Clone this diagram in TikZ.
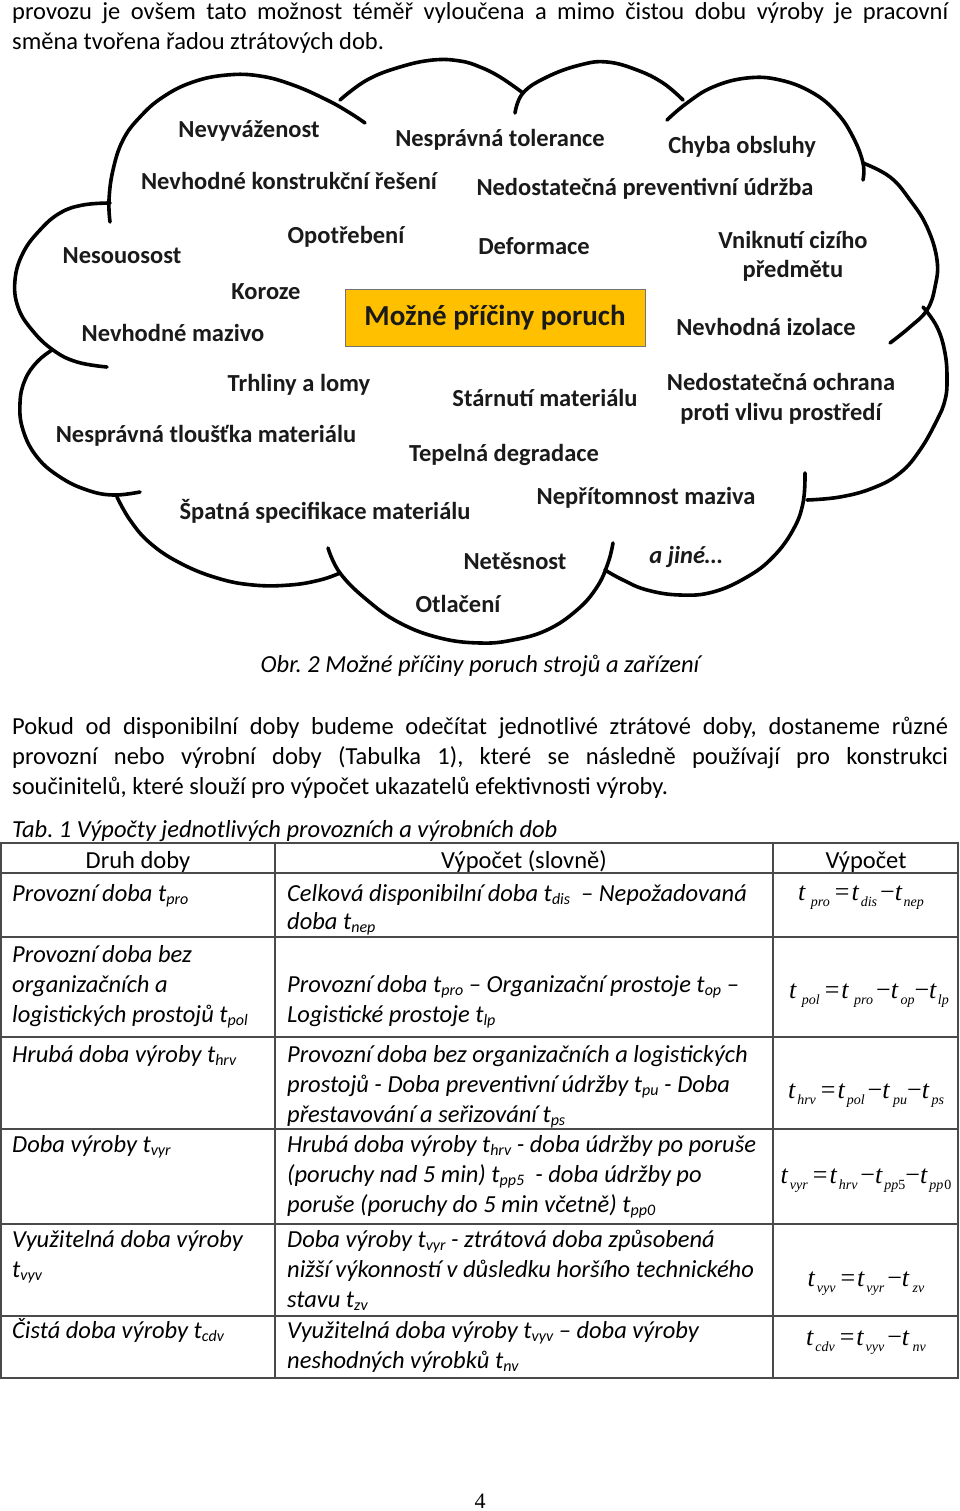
\documentclass[tikz,border=0pt]{standalone}
\usepackage{fontspec}
\setmainfont{Carlito}
\newfontfamily\tms{Liberation Serif}
\definecolor{gold}{HTML}{FFC000}
\definecolor{ink}{HTML}{1A1A1A}
\definecolor{rulec}{HTML}{4A4A4A}
\frenchspacing
\newcommand{\ts}[1]{\raisebox{-3.5pt}{\fontsize{16}{16}\selectfont #1}}
\newcommand{\FT}[2][1.5pt]{\textit{t}\kern#1\raisebox{-6pt}{\fontsize{14}{14}\selectfont\textit{#2}}}
\newcommand{\FEQ}{\kern5pt=\kern2pt}
\newcommand{\FMI}{\kern3pt−}
\newcommand{\FMJ}{\kern0pt−}
\tikzset{
 cloudline/.style={line width=3.6pt, line cap=round, line join=round},
 lbl/.style={anchor=base, inner sep=0, font=\fontsize{24.5}{30}\selectfont\bfseries, text=ink},
 body/.style={anchor=base west, inner sep=0, font=\fontsize{24.5}{30}\selectfont},
 cell/.style={anchor=base west, inner sep=0, font=\fontsize{24.5}{30}\selectfont\itshape},
 head/.style={anchor=base, inner sep=0, font=\fontsize{24.5}{30}\selectfont},
 formula/.style={anchor=base, inner sep=0, font=\tms\fontsize{26}{26}\selectfont},
 grid/.style={draw=rulec, line width=1.4pt},
}
\begin{document}
\begin{tikzpicture}[x=1pt,y=-1pt]
\useasboundingbox (0,0) rectangle (960,1511);
\fill[white] (0,0) rectangle (960,1511);

% top paragraph
\node[body] (p1) at (12,20) {\makebox[936pt][s]{provozu je ovšem tato možnost téměř vyloučena a mimo čistou dobu výroby je pracovní}};
\node[body] (p2) at (12,50) {směna tvořena řadou ztrátových dob.};

% cloud
\draw[cloudline] plot[smooth, tension=0.7] coordinates {(110,222) (109,200) (113,170) (123,140) (140,117) (163,97) (193,82) (227,75) (260,76) (293,85) (327,100) (350,113) (365,123)};
\draw[cloudline] plot[smooth, tension=0.7] coordinates {(110,203) (83,205) (60,213) (40,230) (23,253) (15,280) (18,307) (32,330) (53,350) (77,362) (107,367)};
\draw[cloudline] plot[smooth, tension=0.7] coordinates {(52,350) (37,362) (25,380) (20,403) (23,430) (37,457) (60,477) (87,490) (113,495) (140,492)};
\draw[cloudline] plot[smooth, tension=0.7] coordinates {(117,497) (130,520) (150,543) (180,563) (217,578) (253,585) (290,585) (320,580) (340,573)};
\draw[cloudline] plot[smooth, tension=0.7] coordinates {(328,548) (340,573) (367,600) (400,623) (440,638) (480,643) (513,640) (547,630) (577,610) (597,587) (608,563) (613,543)};
\draw[cloudline] plot[smooth, tension=0.7] coordinates {(605,570) (623,580) (647,590) (680,595) (713,592) (747,577) (773,557) (793,530) (803,503) (805,473)};
\draw[cloudline] plot[smooth, tension=0.7] coordinates {(923,307) (937,327) (945,353) (947,380) (945,400) (937,420) (920,450) (900,473) (873,488) (840,497) (807,500)};
\draw[cloudline] plot[smooth, tension=0.7] coordinates {(863,163) (890,177) (910,200) (927,227) (937,260) (935,287) (927,310) (910,327) (890,343)};
\draw[cloudline] plot[smooth, tension=0.7] coordinates {(667,120) (687,103) (713,87) (747,78) (780,80) (813,93) (837,113) (853,137) (863,163) (863,180)};
\draw[cloudline] plot[smooth, tension=0.7] coordinates {(515,113) (523,93) (547,77) (580,65) (607,62) (637,70) (663,83) (683,100)};
\draw[cloudline] plot[smooth, tension=0.7] coordinates {(340,100) (367,80) (400,67) (433,60) (460,61) (480,67) (500,77) (523,93)};

% cloud labels
\node[lbl] (c1) at (249,138) {Nevyváženost};
\node[lbl] (c2) at (500,147) {Nesprávná tolerance};
\node[lbl] (c3) at (742,154) {Chyba obsluhy};
\node[lbl] (c4) at (289,190) {Nevhodné konstrukční řešení};
\node[lbl] (c5) at (645,196) {Nedostatečná preventivní údržba};
\node[lbl] (c6) at (346,244) {Opotřebení};
\node[lbl] (c7) at (534,255) {Deformace};
\node[lbl] (c8a) at (793,249) {Vniknutí cizího};
\node[lbl] (c8b) at (793,278) {předmětu};
\node[lbl] (c9) at (122,264) {Nesouosost};
\node[lbl] (c10) at (266,299) {Koroze};
\node[lbl] (c11) at (173,341) {Nevhodné mazivo};
\node[lbl] (c12) at (766,335) {Nevhodná izolace};
\node[lbl] (c13) at (299,391) {Trhliny a lomy};
\node[lbl] (c14) at (545,406) {Stárnutí materiálu};
\node[lbl] (c15a) at (781,390) {Nedostatečná ochrana};
\node[lbl] (c15b) at (781,420) {proti vlivu prostředí};
\node[lbl] (c16) at (206,442) {Nesprávná tloušťka materiálu};
\node[lbl] (c17) at (504,461) {Tepelná degradace};
\node[lbl] (c18) at (646,504) {Nepřítomnost maziva};
\node[lbl] (c19) at (325,519) {Špatná specifikace materiálu};
\node[lbl] (c20) at (515,569) {Netěsnost};
\node[lbl, font=\fontsize{24.5}{30}\selectfont\bfseries\itshape] (c21) at (686,563) {a jiné…};
\node[lbl] (c22) at (458,612) {Otlačení};

\node[draw=black!55, fill=gold, line width=1pt, minimum width=300pt, minimum height=56pt, inner sep=0, font=\fontsize{29}{30}\selectfont\bfseries, text=ink] (title) at (495,318) {Možné příčiny poruch};

% caption and paragraph
\node[body, anchor=base, font=\fontsize{24.5}{30}\selectfont\itshape] (cap) at (480,672) {Obr. 2 Možné příčiny poruch strojů a zařízení};
\node[body] (q1) at (12,734) {\makebox[936pt][s]{Pokud od disponibilní doby budeme odečítat jednotlivé ztrátové doby, dostaneme různé}};
\node[body] (q2) at (12,764) {\makebox[936pt][s]{provozní nebo výrobní doby (Tabulka 1), které se následně používají pro konstrukci}};
\node[body] (q3) at (12,794) {součinitelů, které slouží pro výpočet ukazatelů efektivnosti výroby.};
\node[cell] (tabcap) at (12,837) {Tab. 1 Výpočty jednotlivých provozních a výrobních dob};

% table grid
\draw[grid] (1,843) rectangle (958,1378);
\foreach \yy in {873,937,1037,1129,1224,1316} \draw[grid] (1,\yy) -- (958,\yy);
\draw[grid] (275,843) -- (275,1378);
\draw[grid] (773,843) -- (773,1378);

% header
\node[head] (h1) at (138,868) {Druh doby};
\node[head] (h2) at (524,868) {Výpočet (slovně)};
\node[head] (h3) at (866,868) {Výpočet};

% row 1
\node[cell] (a1) at (12,901) {Provozní doba t\ts{pro}};
\node[cell] (b1a) at (287,901) {Celková disponibilní doba t\ts{dis}\ \ – Nepožadovaná};
\node[cell] (b1b) at (287,929) {doba t\ts{nep}};
\node[formula] (f1) at (861,900) {\FT[5pt]{pro}\FEQ\FT{dis}\FMI\FT[1pt]{nep}};

% row 2
\node[cell] (a2a) at (12,962) {Provozní doba bez};
\node[cell] (a2b) at (12,992) {organizačních a};
\node[cell] (a2c) at (12,1022) {logistických prostojů t\ts{pol}};
\node[cell] (b2a) at (287,992) {Provozní doba t\ts{pro} – Organizační prostoje t\ts{op} –};
\node[cell] (b2b) at (287,1022) {Logistické prostoje t\ts{lp}};
\node[formula] (f2) at (869,998) {\FT[5pt]{pol}\FEQ\FT[5pt]{pro}\FMI\FT[2pt]{op}\FMJ\FT[1pt]{lp}};

% row 3
\node[cell] (a3) at (12,1062) {Hrubá doba výroby t\ts{hrv}};
\node[cell] (b3a) at (287,1062) {Provozní doba bez organizačních a logistických};
\node[cell] (b3b) at (287,1092) {prostojů - Doba preventivní údržby t\ts{pu} - Doba};
\node[cell] (b3c) at (287,1122) {přestavování a seřizování t\ts{ps}};
\node[formula] (f3) at (866,1098) {\FT{hrv}\FEQ\FT{pol}\FMI\FT[3pt]{pu}\FMJ\FT[2pt]{ps}};

% row 4
\node[cell] (a4) at (12,1152) {Doba výroby t\ts{vyr}};
\node[cell] (b4a) at (287,1152) {Hrubá doba výroby t\ts{hrv} - doba údržby po poruše};
\node[cell] (b4b) at (287,1182) {(poruchy nad 5 min) t\ts{pp5}\ \ - doba údržby po};
\node[cell] (b4c) at (287,1212) {poruše (poruchy do 5 min včetně) t\ts{pp0}};
\node[formula] (f4) at (866,1183) {\FT{vyr}\FEQ\FT{hrv}\FMI\FT{pp\textup{5}}\FMJ\FT{pp\kern1pt\textup{0}}};

% row 5
\node[cell] (a5a) at (12,1247) {Využitelná doba výroby};
\node[cell] (a5b) at (12,1277) {t\ts{vyv}};
\node[cell] (b5a) at (287,1247) {Doba výroby t\ts{vyr} - ztrátová doba způsobená};
\node[cell] (b5b) at (287,1277) {nižší výkonností v důsledku horšího technického};
\node[cell] (b5c) at (287,1307) {stavu t\ts{zv}};
\node[formula] (f5) at (866,1286) {\FT{vyv}\FEQ\FT{vyr}\FMI\FT[3pt]{zv}};

% row 6
\node[cell] (a6) at (12,1338) {Čistá doba výroby t\ts{cdv}};
\node[cell] (b6a) at (287,1338) {Využitelná doba výroby t\ts{vyv} – doba výroby};
\node[cell] (b6b) at (287,1368) {neshodných výrobků t\ts{nv}};
\node[formula] (f6) at (866,1345) {\FT{cdv}\FEQ\FT{vyv}\FMI\FT[3pt]{nv}};

% page number
\node[anchor=base, inner sep=0, font=\tms\fontsize{22}{22}\selectfont] (pg) at (480,1508) {4};
\end{tikzpicture}
\end{document}
